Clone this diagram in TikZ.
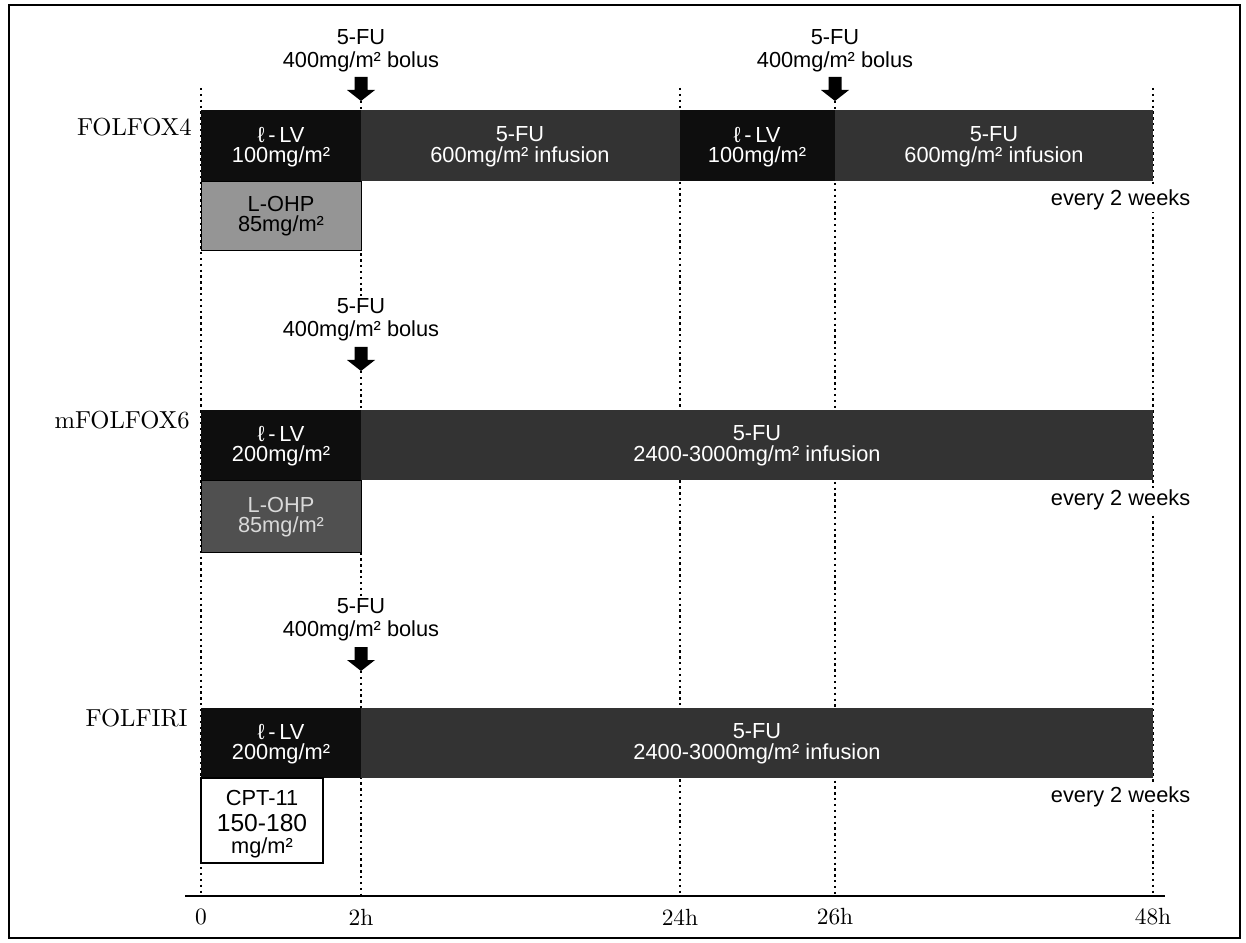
\documentclass[tikz,border=0pt]{standalone}
\usepackage{fontspec}
\setsansfont{Liberation Sans}
\usetikzlibrary{backgrounds}

\tikzset{
  bolus arrow/.pic={
    \fill (-6.5,0) -- (6.5,0) -- (6.5,13) -- (14,13) -- (0,24) -- (-14,13) -- (-6.5,13) -- cycle;
    \coordinate (-tip) at (0,24);
  },
}

\begin{document}
\begin{tikzpicture}[
  x=0.015cm, y=-0.015cm,
  font=\fontsize{9.3}{9.6}\sffamily,
  guide/.style={line width=0.8pt, dash pattern=on 1pt off 1.5pt},
  lv/.style={fill=LVblk},
  fu/.style={fill=FUgry},
  bartext/.style={text=white, align=center, inner sep=0pt, font=\fontsize{9.3}{8.8}\sffamily},
  regimen/.style={anchor=east, inner sep=0pt, font=\fontsize{10.5}{12}\rmfamily},
  bolus/.style={align=center, inner sep=1pt},
  cycle/.style={anchor=east, fill=white, inner sep=1pt},
  tick/.style={inner sep=0pt, font=\fontsize{10}{12}\rmfamily},
]
\definecolor{LVblk}{HTML}{0E0E0E}
\definecolor{FUgry}{HTML}{333333}
\definecolor{OHPlt}{HTML}{959595}
\definecolor{OHPdk}{HTML}{505050}

\useasboundingbox (0,0) rectangle (1246,943);
\draw[line width=0.9pt] (9,5) rectangle (1240,938);

% ---- time axis ----
\coordinate (axL) at (185,896);
\coordinate (axR) at (1165,896);
\draw[line width=0.7pt] (axL) -- (axR);
\foreach \x/\t/\n in {201/0/0, 361/2h/2, 680/24h/24, 835/26h/26, 1153/48h/48} {
  \coordinate (t\n) at (\x,896);
  \coordinate (top\n) at (\x,88);
  \node[tick] (lab\n) at (\x,917) {\t};
}

% ---- FOLFOX4 ----
\node[regimen] (reg1) at (192,127) {FOLFOX4};
\node[bolus] (bol1a) at (361,51) {5-FU\\400mg/m² bolus};
\node[bolus] (bol1b) at (835,51) {5-FU\\400mg/m² bolus};
\pic (arA) at (361,77) {bolus arrow};
\pic (arD) at (835,77) {bolus arrow};
\fill[lv] (201,110) rectangle (361,181);
\fill[fu] (361,110) rectangle (680,181);
\fill[lv] (680,110) rectangle (835,181);
\fill[fu] (835,110) rectangle (1153,181);
\filldraw[fill=OHPlt, draw=black, line width=0.4pt] (201,181) rectangle (361,250);
\node[bartext] (lv1a) at (281,147) {ℓ\,-\,LV\\100mg/m²};
\node[bartext] (fu1a) at (520,147) {5-FU\\600mg/m² infusion};
\node[bartext] (lv1b) at (757,147) {ℓ\,-\,LV\\100mg/m²};
\node[bartext] (fu1b) at (994,147) {5-FU\\600mg/m² infusion};
\node[bartext, text=black] (ohp1) at (281,216) {L-OHP\\85mg/m²};
\node[cycle] (ev1) at (1193,200) {every 2 weeks};

% ---- mFOLFOX6 ----
\node[regimen] (reg2) at (190,420) {mFOLFOX6};
\node[bolus] (bol2) at (361,320) {5-FU\\400mg/m² bolus};
\pic (arB) at (361,347) {bolus arrow};
\fill[lv] (201,410) rectangle (361,480);
\fill[fu] (361,410) rectangle (1153,480);
\filldraw[fill=OHPdk, draw=black, line width=0.4pt] (201,480) rectangle (361,552);
\node[bartext] (lv2) at (281,446) {ℓ\,-\,LV\\200mg/m²};
\node[bartext] (fu2) at (757,446) {5-FU\\2400-3000mg/m² infusion};
\node[bartext, text=white!85!black] (ohp2) at (281,517) {L-OHP\\85mg/m²};
\node[cycle] (ev2) at (1193,500) {every 2 weeks};

% ---- FOLFIRI ----
\node[regimen] (reg3) at (188,718) {FOLFIRI};
\node[bolus] (bol3) at (361,620) {5-FU\\400mg/m² bolus};
\pic (arC) at (361,647) {bolus arrow};
\fill[lv] (201,708) rectangle (361,778);
\fill[fu] (361,708) rectangle (1153,778);
\draw[line width=0.7pt, fill=white] (201,778) rectangle (323,863);
\node[bartext] (lv3) at (281,744) {ℓ\,-\,LV\\200mg/m²};
\node[bartext] (fu3) at (757,744) {5-FU\\2400-3000mg/m² infusion};
\node[inner sep=0pt] (cptA) at (262,798) {CPT-11};
\node[inner sep=0pt, font=\fontsize{10.5}{12}\sffamily] (cptB) at (262,823) {150-180};
\node[inner sep=0pt] (cptC) at (262,848) {mg/m²};
\node[cycle] (ev3) at (1193,797) {every 2 weeks};

% ---- dotted time guides ----
\begin{scope}[on background layer]
  \draw[guide] (top0) -- (t0);
  \draw[guide] (top24) -- (t24);
  \draw[guide] (top48) -- (t48);
  \draw[guide] (arD-tip) -- (t26);
  \draw[guide] (arA-tip) -- (bol2.north);
  \draw[guide] (arB-tip) -- (bol3.north);
  \draw[guide] (arC-tip) -- (t2);
\end{scope}
\end{tikzpicture}
\end{document}
